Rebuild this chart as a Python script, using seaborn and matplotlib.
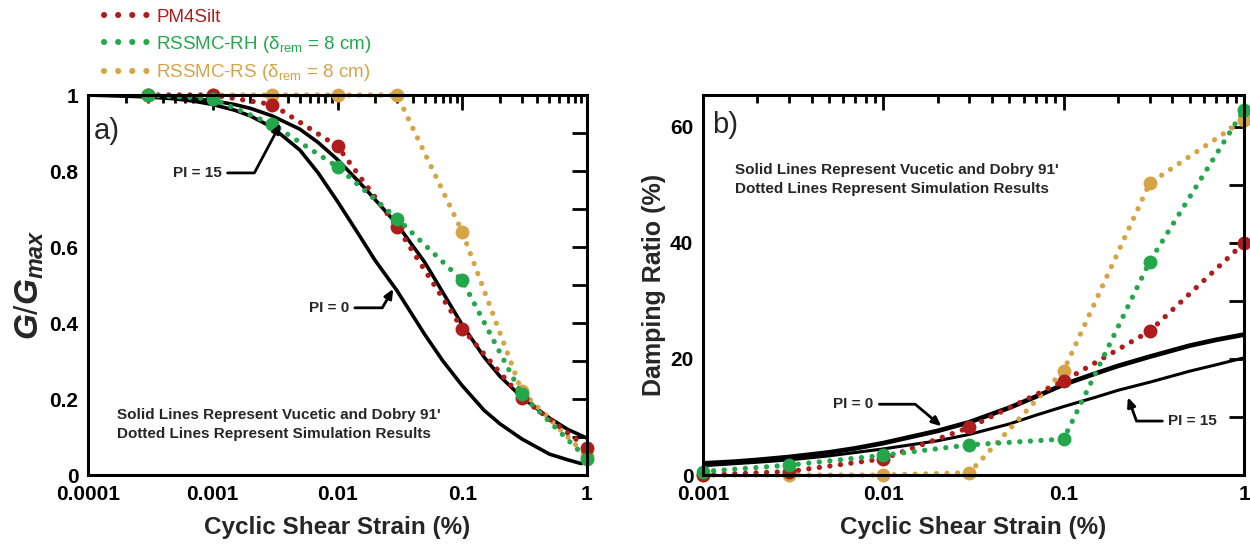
import matplotlib
matplotlib.use("Agg")
import matplotlib.pyplot as plt
import seaborn as sns
from matplotlib.lines import Line2D
from matplotlib.ticker import LogLocator, NullFormatter, FixedLocator, FixedFormatter

sns.set_style("white")
plt.rcParams['font.family'] = ['Liberation Sans', 'DejaVu Sans']
plt.rcParams['mathtext.fontset'] = 'custom'
plt.rcParams['mathtext.rm'] = 'Liberation Sans'
plt.rcParams['mathtext.it'] = 'Liberation Sans:italic:bold'
plt.rcParams['mathtext.bf'] = 'Liberation Sans:bold'

# ---- simulation results: modulus reduction ----
strain_sim = [0.0003, 0.001, 0.003, 0.01, 0.03, 0.1, 0.3, 1.0]
gg_pm4silt = [1.0, 1.0, 0.975, 0.865, 0.653, 0.385, 0.203, 0.072]
gg_rh = [1.0, 0.99, 0.923, 0.811, 0.675, 0.512, 0.212, 0.043]
gg_rs = [1.0, 1.0, 1.0, 1.0, 1.0, 0.64, 0.22, 0.05]

# ---- simulation results: damping ratio (%) ----
strain_damp = [0.001, 0.003, 0.01, 0.03, 0.1, 0.3, 1.0]
d_pm4silt = [0.0, 0.6, 2.8, 8.2, 16.2, 24.8, 40.0]
d_rh = [0.6, 1.7, 3.4, 5.2, 6.2, 36.8, 63.0]
d_rs = [0.0, 0.0, 0.0, 0.4, 18.0, 50.3, 61.2]

# ---- Vucetic and Dobry (1991) reference curves ----
strain_vd0 = [0.0001, 0.0002, 0.0003, 0.0005, 0.0007, 0.001, 0.0015, 0.002, 0.003, 0.005,
              0.007, 0.01, 0.015, 0.02, 0.03, 0.05, 0.07, 0.1, 0.15, 0.2, 0.3, 0.5, 0.7, 0.9]
gg_pi0 = [1.0, 0.997, 0.995, 0.99, 0.984, 0.975, 0.96, 0.945, 0.915, 0.855,
          0.795, 0.72, 0.63, 0.565, 0.485, 0.37, 0.3, 0.235, 0.17, 0.135, 0.095, 0.055, 0.04, 0.03]
strain_vd15 = [0.0001, 0.0002, 0.0003, 0.0005, 0.0007, 0.001, 0.0015, 0.002, 0.003, 0.005,
               0.007, 0.01, 0.015, 0.02, 0.03, 0.05, 0.07, 0.1, 0.15, 0.2, 0.3, 0.5, 0.7, 1.0]
gg_pi15 = [1.0, 0.999, 0.997, 0.994, 0.99, 0.985, 0.975, 0.965, 0.945, 0.91,
           0.875, 0.83, 0.77, 0.725, 0.66, 0.56, 0.48, 0.395, 0.31, 0.26, 0.205, 0.15, 0.12, 0.097]

strain_vdd0 = [0.001, 0.0015, 0.002, 0.003, 0.005, 0.007, 0.01, 0.013, 0.02, 0.03, 0.05,
               0.07, 0.1, 0.15, 0.2, 0.3, 0.5, 0.7, 1.0]
d_pi0 = [2.0, 2.3, 2.6, 3.1, 3.9, 4.6, 5.5, 6.3, 7.6, 9.1, 11.6,
         13.5, 15.6, 17.5, 18.8, 20.4, 22.3, 23.3, 24.2]
strain_vdd15 = [0.001, 0.002, 0.003, 0.005, 0.01, 0.02, 0.03, 0.05, 0.07, 0.1, 0.15,
                0.2, 0.3, 0.5, 0.7, 1.0]
d_pi15 = [1.6, 2.2, 2.6, 3.3, 4.5, 5.9, 7.0, 8.8, 10.3, 11.8, 13.4,
          14.6, 16.0, 17.9, 19.0, 20.2]

labels = ["PM4Silt",
          r"RSSMC-RH ($\mathrm{\delta}_{\mathrm{rem}}$ = 8 cm)",
          r"RSSMC-RS ($\mathrm{\delta}_{\mathrm{rem}}$ = 8 cm)"]
c_red, c_green, c_gold = "#AE1C1C", "#22A84B", "#D6A446"

DOT = (0, (0.01, 2.0))
dot_kw = dict(linewidth=3.8, dash_capstyle='round', marker='o', markersize=10,
              markeredgewidth=0, clip_on=False, errorbar=None)

fig = plt.figure(figsize=(12.5, 5.48), dpi=100)
ax1 = fig.add_axes([0.0704, 0.1332, 0.3992, 0.6934])
ax2 = fig.add_axes([0.5624, 0.1332, 0.4328, 0.6934])

# panel a
sns.lineplot(x=strain_vd0, y=gg_pi0, ax=ax1, color='black', linewidth=2.6, errorbar=None)
sns.lineplot(x=strain_vd15, y=gg_pi15, ax=ax1, color='black', linewidth=2.6, errorbar=None)
sns.lineplot(x=strain_sim, y=gg_rs, ax=ax1, color=c_gold, linestyle=DOT, **dot_kw)
sns.lineplot(x=strain_sim, y=gg_pm4silt, ax=ax1, color=c_red, linestyle=DOT, **dot_kw)
sns.lineplot(x=strain_sim, y=gg_rh, ax=ax1, color=c_green, linestyle=DOT, **dot_kw)

# panel b
sns.lineplot(x=strain_vdd0, y=d_pi0, ax=ax2, color='black', linewidth=3.4, errorbar=None)
sns.lineplot(x=strain_vdd15, y=d_pi15, ax=ax2, color='black', linewidth=2.2, errorbar=None)
sns.lineplot(x=strain_damp, y=d_rs, ax=ax2, color=c_gold, linestyle=DOT, **dot_kw)
sns.lineplot(x=strain_damp, y=d_pm4silt, ax=ax2, color=c_red, linestyle=DOT, **dot_kw)
sns.lineplot(x=strain_damp, y=d_rh, ax=ax2, color=c_green, linestyle=DOT, **dot_kw)

for ax in (ax1, ax2):
    ax.set_xscale('log')
    for s in ax.spines.values():
        s.set_linewidth(2.2)
        s.set_color('black')
    ax.xaxis.set_minor_locator(LogLocator(base=10, subs=range(2, 10)))
    ax.xaxis.set_minor_formatter(NullFormatter())
    ax.tick_params(which='both', direction='in', top=True, right=True, width=2, colors='black')
    ax.tick_params(which='major', length=11, labelsize=15, pad=7)
    ax.tick_params(which='minor', length=6)
    ax.set_xlabel("Cyclic Shear Strain (%)", fontsize=17.5, fontweight='bold', labelpad=9)

ax1.set_xlim(0.0001, 1)
ax1.set_ylim(0, 1)
ax1.xaxis.set_major_locator(FixedLocator([0.0001, 0.001, 0.01, 0.1, 1]))
ax1.xaxis.set_major_formatter(FixedFormatter(["0.0001", "0.001", "0.01", "0.1", "1"]))
ax1.yaxis.set_major_locator(FixedLocator([0, 0.1, 0.2, 0.3, 0.4, 0.5, 0.6, 0.7, 0.8, 0.9, 1.0]))
ax1.yaxis.set_major_formatter(FixedFormatter(["0", "", "0.2", "", "0.4", "", "0.6", "", "0.8", "", "1"]))
ax1.set_ylabel(r"$G/G_{max}$", fontsize=24, labelpad=2)

ax2.set_xlim(0.001, 1)
ax2.set_ylim(0, 65.5)
ax2.xaxis.set_major_locator(FixedLocator([0.001, 0.01, 0.1, 1]))
ax2.xaxis.set_major_formatter(FixedFormatter(["0.001", "0.01", "0.1", "1"]))
ax2.yaxis.set_major_locator(FixedLocator([0, 10, 20, 30, 40, 50, 60]))
ax2.yaxis.set_major_formatter(FixedFormatter(["0", "", "20", "", "40", "", "60"]))
ax2.set_ylabel("Damping Ratio (%)", fontsize=18, fontweight='bold', labelpad=3)

for ax in (ax1, ax2):
    for lab in ax.get_xticklabels() + ax.get_yticklabels():
        lab.set_fontweight('bold')

arrow_kw = dict(arrowstyle='-|>,head_length=0.5,head_width=0.22', color='black', lw=2,
                shrinkA=2, shrinkB=0)

# panel a annotations
ax1.text(0.000112, 0.905, "a)", fontsize=21, va='center', ha='left')
ax1.annotate("PI = 15", xy=(0.0035, 0.925), xytext=(0.00075, 0.795),
             fontsize=11, fontweight='bold', ha='center', va='center',
             arrowprops=dict(connectionstyle='angle,angleA=0,angleB=62,rad=0', **arrow_kw))
ax1.annotate("PI = 0", xy=(0.028, 0.49), xytext=(0.0085, 0.44),
             fontsize=11, fontweight='bold', ha='center', va='center',
             arrowprops=dict(connectionstyle='angle,angleA=0,angleB=60,rad=0', **arrow_kw))
ax1.text(0.00017, 0.134, "Solid Lines Represent Vucetic and Dobry 91'\nDotted Lines Represent Simulation Results",
         fontsize=11, fontweight='bold', va='center', ha='left', linespacing=1.45)

# panel b annotations
ax2.text(0.00113, 60.3, "b)", fontsize=21, va='center', ha='left')
ax2.text(0.0015, 51.0, "Solid Lines Represent Vucetic and Dobry 91'\nDotted Lines Represent Simulation Results",
         fontsize=11, fontweight='bold', va='center', ha='left', linespacing=1.45)
ax2.annotate("PI = 0", xy=(0.021, 8.4), xytext=(0.0068, 12.2),
             fontsize=11, fontweight='bold', ha='center', va='center',
             arrowprops=dict(connectionstyle='angle,angleA=0,angleB=-40,rad=0', **arrow_kw))
ax2.annotate("PI = 15", xy=(0.227, 13.4), xytext=(0.52, 9.3),
             fontsize=11, fontweight='bold', ha='center', va='center',
             arrowprops=dict(connectionstyle='angle,angleA=180,angleB=-70,rad=0', **arrow_kw))

# legend
handles = [Line2D([], [], color=c, linewidth=4.4, linestyle=(0, (0.01, 2.3)), dash_capstyle='round')
           for c in (c_red, c_green, c_gold)]
fig.legend(handles, labels, loc='upper left', bbox_to_anchor=(0.077, 0.998), frameon=False,
           fontsize=13.5, labelcolor='linecolor', handlelength=2.7, handletextpad=0.1,
           labelspacing=0.42, borderaxespad=0.0)

fig.savefig("out.png", dpi=100)
